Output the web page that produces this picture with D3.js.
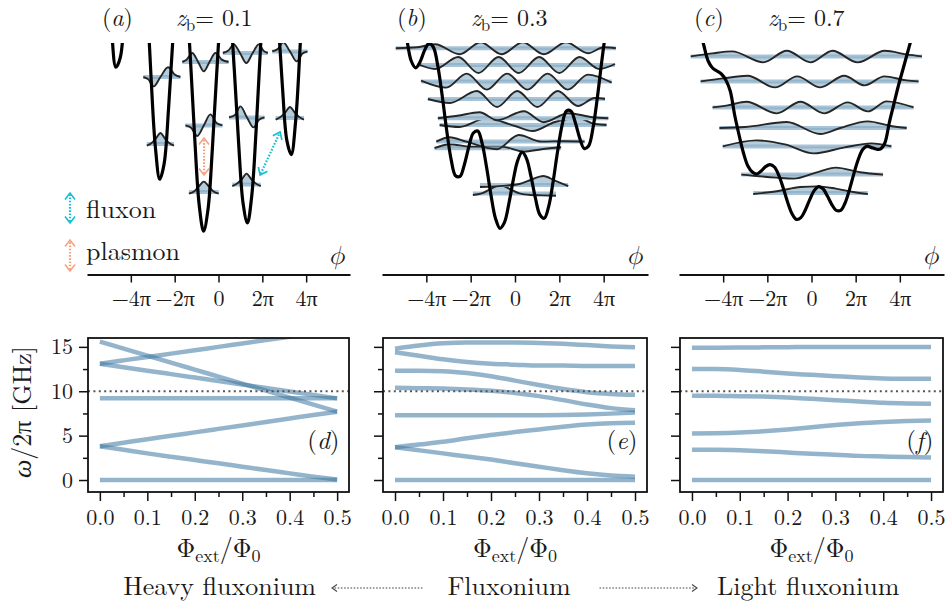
<!DOCTYPE html>
<html>
<head>
<meta charset="utf-8">
<script src="https://cdn.jsdelivr.net/npm/d3@7"></script>
<style>
  body { margin: 0; background: #fff; }
</style>
</head>
<body>
<svg id="fig" width="945" height="605"></svg>
<script>
// ---- spectra (bottom row), frequencies in GHz vs external flux ----
const fluxX = [0, 0.05, 0.1, 0.15, 0.2, 0.25, 0.3, 0.35, 0.4, 0.45, 0.5];

const specD = [
  [0, 0, 0, 0, 0, 0, 0, 0, 0, 0, 0],
  [3.8, 3.4, 3.0, 2.62, 2.25, 1.88, 1.5, 1.12, 0.75, 0.38, 0.05],
  [3.8, 4.2, 4.6, 4.98, 5.37, 5.76, 6.15, 6.54, 6.93, 7.32, 7.7],
  [9.2, 9.2, 9.2, 9.2, 9.2, 9.2, 9.2, 9.2, 9.2, 9.2, 9.2],
  [13.1, 12.71, 12.32, 11.93, 11.54, 11.15, 10.76, 10.37, 9.98, 9.59, 9.2],
  [13.1, 13.48, 13.86, 14.24, 14.62, 15.0, 15.38, 15.76, 16.14, 16.52, 16.9],
  [15.6, 14.81, 14.02, 13.23, 12.44, 11.65, 10.86, 10.07, 9.28, 8.49, 7.7]
];
const specE = [
  [0, 0, 0, 0, 0, 0, 0, 0, 0, 0, 0],
  [3.7, 3.35, 3.0, 2.65, 2.3, 1.9, 1.5, 1.1, 0.75, 0.5, 0.38],
  [3.7, 4.0, 4.3, 4.7, 5.07, 5.4, 5.7, 6.0, 6.25, 6.4, 6.45],
  [7.3, 7.3, 7.3, 7.3, 7.3, 7.3, 7.3, 7.32, 7.38, 7.48, 7.6],
  [10.4, 10.35, 10.3, 10.2, 10.05, 9.8, 9.45, 9.0, 8.5, 8.1, 7.85],
  [12.3, 12.3, 12.25, 12.05, 11.7, 11.2, 10.7, 10.25, 9.9, 9.7, 9.6],
  [14.4, 14.0, 13.6, 13.3, 13.1, 13.0, 12.9, 12.9, 12.85, 12.85, 12.85],
  [14.8, 15.15, 15.4, 15.5, 15.5, 15.5, 15.45, 15.35, 15.2, 15.05, 14.95]
];
const specF = [
  [0, 0, 0, 0, 0, 0, 0, 0, 0, 0, 0],
  [3.4, 3.4, 3.35, 3.25, 3.1, 2.95, 2.85, 2.72, 2.65, 2.58, 2.55],
  [5.25, 5.27, 5.35, 5.5, 5.7, 5.95, 6.2, 6.4, 6.55, 6.65, 6.7],
  [9.5, 9.5, 9.45, 9.4, 9.3, 9.15, 9.0, 8.85, 8.7, 8.62, 8.58],
  [12.5, 12.5, 12.4, 12.2, 12.0, 11.85, 11.7, 11.55, 11.45, 11.4, 11.4],
  [14.9, 14.9, 14.92, 14.95, 14.97, 15.0, 15.0, 15.0, 15.0, 15.0, 15.0]
];
const xMajor = [0, 0.1, 0.2, 0.3, 0.4, 0.5];
const xMinor = [0.05, 0.15, 0.25, 0.35, 0.45];
const yMajor = [0, 5, 10, 15];
const yMinor = [2.5, 7.5, 12.5];
const driveFreq = 10;

// ---- potentials (top row), phi in units of pi, energy in arbitrary units ----
const potPhiA = d3.range(49).map(k => +(-5.48 + 0.2 * k).toFixed(2));
const potA = [23.2, 19.3, 14.65, 10.8, 8.89, 9.38, 11.81, 15.0, 17.5, 18.1, 16.4, 12.77, 8.45, 4.89, 3.29,
  4.07, 6.81, 10.31, 13.11, 14.01, 12.59, 9.27, 5.25, 1.99, 0.69, 1.77, 4.81, 8.62, 11.71, 12.92, 11.79,
  8.78, 5.06, 2.10, 1.10, 2.49, 5.82, 9.93, 13.33, 14.83, 14.01, 11.30, 7.87, 5.22, 4.52, 6.20, 9.84,
  14.25, 17.95];
const potPhiB = d3.range(49).map(k => +(-5.28 + 0.2 * k).toFixed(2));
const potB = [14.1, 12.08, 10.32, 9.20, 8.86, 9.16, 9.73, 10.09, 9.88, 8.94, 7.43, 5.72, 4.27, 3.46, 3.43,
  4.04, 4.92, 5.60, 5.70, 5.07, 3.87, 2.47, 1.33, 0.835, 1.12, 2.05, 3.24, 4.22, 4.64, 4.32, 3.43, 2.35,
  1.52, 1.335, 1.93, 3.17, 4.67, 5.97, 6.70, 6.70, 6.12, 5.34, 4.83, 4.95, 5.86, 7.41, 9.23, 10.84, 11.87];
const potPhiC = d3.range(52).map(k => +(-5.28 + 0.2 * k).toFixed(2));
const potC = [12.06, 10.9, 10.0, 9.2, 8.85, 8.7, 8.55, 8.25, 7.7, 6.5, 5.5, 4.6, 3.95, 3.65, 3.55, 3.7,
  3.92, 4.02, 3.9, 3.48, 2.85, 2.14, 1.56, 1.28, 1.37, 1.75, 2.27, 2.72, 2.92, 2.81, 2.45, 2.02, 1.73,
  1.73, 2.10, 2.77, 3.57, 4.29, 4.77, 4.94, 4.87, 4.80, 4.80, 5.1, 6.1, 7.0, 7.9, 8.7, 9.5, 10.3, 11.1, 12.0];

// wavefunctions: level energy E and [phi, psi] samples
const wavesA = [
  {E: 2.65, pts: [[-1.35, -0.08], [-1.1, 0.04], [-0.9, 0.28], [-0.67, 0.52], [-0.44, 0.28], [-0.24, 0.04], [0.01, -0.08]]},
  {E: 5.98, pts: [[-1.51, 0], [-1.25, -0.12], [-0.97, -0.53], [-0.67, 0], [-0.37, 0.55], [-0.09, 0.12], [0.18, 0]]},
  {E: 9.15, pts: [[-1.65, 0], [-1.45, 0.12], [-1.2, 0.45], [-0.93, 0], [-0.67, -0.47], [-0.41, 0], [-0.14, 0.45], [0.15, 0.12], [0.46, 0]]},
  {E: 5.05, pts: [[-3.27, -0.08], [-3.05, 0.05], [-2.85, 0.28], [-2.65, 0.55], [-2.45, 0.28], [-2.25, 0.05], [-2.03, -0.08]]},
  {E: 8.4, pts: [[-3.43, 0], [-3.2, -0.12], [-2.96, -0.47], [-2.65, 0], [-2.3, 0.49], [-2.0, 0.12], [-1.74, 0]]},
  {E: 3.02, pts: [[0.63, -0.08], [0.85, 0.05], [1.07, 0.28], [1.28, 0.55], [1.49, 0.28], [1.7, 0.05], [1.93, -0.08]]},
  {E: 6.38, pts: [[0.48, 0], [0.75, 0.12], [1.0, 0.55], [1.3, 0], [1.6, -0.5], [1.85, -0.12], [2.1, 0]]},
  {E: 9.6, pts: [[0.2, 0], [0.45, 0.12], [0.7, 0.43], [0.98, 0], [1.27, -0.5], [1.56, 0], [1.84, 0.43], [2.05, 0.12], [2.25, 0]]},
  {E: 6.35, pts: [[2.61, -0.08], [2.83, 0.05], [3.05, 0.28], [3.26, 0.55], [3.47, 0.28], [3.68, 0.05], [3.9, -0.08]]},
  {E: 9.68, pts: [[2.45, 0], [2.7, 0.12], [2.95, 0.45], [3.26, 0], [3.57, -0.5], [3.82, -0.12], [4.06, 0]]}
];
const wavesB = [
  {E: 2.58, pts: [[-1.9, -0.08], [-1.5, 0.0], [-1.1, 0.22], [-0.66, 0.42], [-0.2, 0.2], [0.2, 0.0], [0.7, -0.08], [1.2, -0.1], [1.85, -0.12]]},
  {E: 3.0, pts: [[-1.58, -0.1], [-1.0, -0.08], [-0.4, -0.03], [0.2, 0.05], [0.7, 0.25], [1.28, 0.45], [1.8, 0.22], [2.4, -0.05]]},
  {E: 4.84, pts: [[-3.63, 0], [-2.95, 0.2], [-2.0, 0.08], [-0.6, 0.08], [0.4, -0.17], [1.2, -0.05], [2.08, 0.05]]},
  {E: 5.17, pts: [[-3.55, 0], [-2.95, 0.22], [-2.2, 0.0], [-0.82, -0.38], [0.17, 0.33], [1.2, 0.0], [2.2, 0.02], [3.14, 0]]},
  {E: 6.0, pts: [[-3.4, 0], [-2.5, -0.1], [-1.3, 0.33], [0.0, -0.05], [0.8, -0.3], [1.8, 0.15], [2.84, 0.35], [3.6, 0.05], [4.13, 0]]},
  {E: 6.34, pts: [[-3.48, 0], [-2.6, 0.12], [-1.6, 0.3], [-0.8, -0.1], [0.4, 0.35], [1.3, -0.2], [2.4, 0.25], [3.5, 0.05], [4.21, 0]]},
  {E: 7.3, pts: [[-3.93, 0], [-2.94, -0.2], [-1.72, 0.4], [-0.81, -0.4], [0.1, 0.4], [1.01, -0.4], [1.93, 0.4], [2.84, -0.35], [3.6, 0.05], [4.06, 0]]},
  {E: 8.17, pts: [[-4.24, 0.05], [-3.1, -0.3], [-2.18, 0.4], [-1.27, -0.4], [-0.36, 0.4], [0.56, -0.4], [1.47, 0.4], [2.38, -0.4], [3.29, 0.35], [4.36, -0.05]]},
  {E: 9.0, pts: [[-4.39, 0.05], [-3.6, -0.2], [-2.56, 0.4], [-1.65, -0.4], [-0.74, 0.4], [0.17, -0.4], [1.09, 0.4], [2.0, -0.4], [2.91, 0.4], [3.8, -0.2], [4.51, 0.05]]},
  {E: 9.84, pts: [[-5.38, 0], [-4.4, 0.05], [-3.6, 0.2], [-2.5, -0.3], [-1.55, 0.3], [-0.6, -0.3], [0.35, 0.3], [1.3, -0.3], [2.3, 0.3], [3.3, -0.25], [4.0, 0.05], [4.55, 0]]}
];
const wavesC = [
  {E: 2.6, pts: [[-2.64, -0.05], [-1.5, 0.1], [-0.5, 0.3], [0.3, 0.33], [1.1, 0.22], [1.9, 0.05], [2.55, -0.05]]},
  {E: 3.52, pts: [[-3.18, 0], [-1.6, -0.15], [-0.8, -0.2], [0.2, 0.1], [1.1, 0.35], [2.2, 0.12], [3.24, 0]]},
  {E: 4.93, pts: [[-4.02, 0], [-2.49, 0.3], [-1.2, 0.1], [0.1, -0.35], [1.5, -0.05], [2.7, 0.15], [3.62, 0]]},
  {E: 5.85, pts: [[-4.17, 0], [-3.0, 0.05], [-1.12, 0.3], [0.4, -0.3], [1.3, 0.0], [2.55, 0.33], [3.6, 0.1], [4.31, 0]]},
  {E: 6.88, pts: [[-4.48, 0], [-3.8, 0.1], [-2.95, 0.28], [-1.57, -0.3], [-0.5, 0.28], [0.57, -0.3], [1.64, 0.25], [2.55, -0.2], [3.4, 0.3], [4.62, 0]]},
  {E: 8.18, pts: [[-5.02, 0], [-4.0, 0.15], [-2.9, 0.28], [-1.65, -0.3], [-0.65, 0.25], [0.4, -0.3], [1.48, 0.28], [2.4, -0.2], [3.3, 0.25], [4.3, 0.05], [4.85, 0]]},
  {E: 9.43, pts: [[-5.47, 0], [-4.5, 0.15], [-3.6, 0.25], [-2.18, -0.3], [-1.12, 0.28], [-0.04, -0.3], [0.95, 0.28], [2.09, -0.3], [3.32, 0.28], [4.3, 0.1], [5.0, 0]]}
];
const phiTicks = [-4, -2, 0, 2, 4];
const zbValues = ["0.1", "0.3", "0.7"];

// transition arrows in panel (a): [phi, E] end points
const fluxonArrow = [[1.9, 3.5], [2.81, 5.65]];
const plasmonArrow = [[-0.66, 3.5], [-0.66, 5.35]];

const cyan = "#17becf";
const salmon = "#f7a180";
const FONT = "'Latin Modern Roman', 'Liberation Serif', serif";
const GREEK = "'Latin Modern Math', 'DejaVu Serif', 'Liberation Serif', serif";

const svg = d3.select("#fig").style("font-family", FONT);
const cols = [
  {x0: 88, x1: 349},
  {x0: 383, x1: 647},
  {x0: 680, x1: 943}
];

function styleAxis(a, size) {
  a.attr("font-family", FONT).attr("font-size", size);
  a.selectAll("line").attr("stroke", "#111").attr("stroke-width", 1.5);
  a.selectAll("text").attr("fill", "#1a1a1a");
}

function txt(g, x, y, size) {
  return g.append("text").attr("x", x).attr("y", y)
    .attr("font-size", size).attr("fill", "#1a1a1a")
    .style("font-family", FONT);
}

function drawArrow(g, x1, y1, x2, y2, color, both, w) {
  const dx = x2 - x1, dy = y2 - y1, len = Math.hypot(dx, dy);
  const ux = dx / len, uy = dy / len, nx = -uy, ny = ux;
  const L = w ? 5 : 6.5, W = w ? 3.5 : 5;
  g.append("line")
    .attr("x1", x1 + ux * 1.5).attr("y1", y1 + uy * 1.5)
    .attr("x2", x2 - ux * 1.5).attr("y2", y2 - uy * 1.5)
    .attr("stroke", color).attr("stroke-width", w || 2.2)
    .attr("stroke-dasharray", "1.6,1.6");
  const head = (px, py, sx, sy) =>
    `M${px - sx * L + nx * W},${py - sy * L + ny * W}L${px},${py}L${px - sx * L - nx * W},${py - sy * L - ny * W}`;
  g.append("path").attr("d", head(x2, y2, ux, uy))
    .attr("fill", "none").attr("stroke", color).attr("stroke-width", w ? 1.1 : 1.6);
  if (both) {
    g.append("path").attr("d", head(x1, y1, -ux, -uy))
      .attr("fill", "none").attr("stroke", color).attr("stroke-width", 1.6);
  }
}

function drawSpectrum(i, lines, tag) {
  const c = cols[i];
  const x = d3.scaleLinear().domain([-0.025, 0.525]).range([c.x0, c.x1]);
  const y = d3.scaleLinear().domain([-1.35, 16]).range([492, 338]);
  const g = svg.append("g");
  const cid = "sclip" + i;
  g.append("clipPath").attr("id", cid).append("rect")
    .attr("x", c.x0).attr("y", 338).attr("width", c.x1 - c.x0).attr("height", 154);

  const line = d3.line()
    .x((d, k) => x(fluxX[k]))
    .y(d => y(d))
    .curve(d3.curveMonotoneX);

  g.append("g").attr("clip-path", `url(#${cid})`)
    .selectAll("path")
    .data(lines)
    .join("path")
    .attr("d", line)
    .attr("fill", "none")
    .attr("stroke", "#3d76a0")
    .attr("stroke-opacity", 0.55)
    .attr("stroke-width", 4.5);

  g.append("line")
    .attr("x1", c.x0).attr("x2", c.x1)
    .attr("y1", y(driveFreq)).attr("y2", y(driveFreq))
    .attr("stroke", "#555").attr("stroke-width", 1.8)
    .attr("stroke-dasharray", "2,3.4");

  const xa = g.append("g").attr("transform", "translate(0,492)")
    .call(d3.axisBottom(x).tickValues(xMajor).tickFormat(d3.format(".1f"))
      .tickSize(9).tickPadding(8).tickSizeOuter(0));
  xa.select(".domain").remove();
  styleAxis(xa, 22);
  const xm = g.append("g").attr("transform", "translate(0,492)")
    .call(d3.axisBottom(x).tickValues(xMinor).tickFormat("").tickSize(5).tickSizeOuter(0));
  xm.select(".domain").remove();
  styleAxis(xm, 22);

  const ya = g.append("g").attr("transform", `translate(${c.x0},0)`)
    .call(d3.axisLeft(y).tickValues(yMajor).tickFormat(i === 0 ? d3.format("d") : "")
      .tickSize(9).tickPadding(6).tickSizeOuter(0));
  ya.select(".domain").remove();
  styleAxis(ya, 22);
  const ym = g.append("g").attr("transform", `translate(${c.x0},0)`)
    .call(d3.axisLeft(y).tickValues(yMinor).tickFormat("").tickSize(5).tickSizeOuter(0));
  ym.select(".domain").remove();
  styleAxis(ym, 22);

  g.append("rect")
    .attr("x", c.x0).attr("y", 338)
    .attr("width", c.x1 - c.x0).attr("height", 154)
    .attr("fill", "none").attr("stroke", "#111").attr("stroke-width", 1.8);

  const t = txt(g, x(0.505), y(3.5), 25).attr("text-anchor", "end");
  t.append("tspan").text("(");
  t.append("tspan").attr("font-style", "italic").text(tag);
  t.append("tspan").text(")");

  const xl = txt(g, x(0.25), 557, 26).attr("text-anchor", "middle");
  xl.append("tspan").text("Φ");
  xl.append("tspan").attr("font-size", 18).attr("dy", 5).text("ext");
  xl.append("tspan").attr("dy", -5).text("/Φ");
  xl.append("tspan").attr("font-size", 18).attr("dy", 5).text("0");
}

function drawWells(i, phis, pot, waves, tag) {
  const c = cols[i];
  const x = d3.scaleLinear().domain([-6, 6]).range([c.x0 - 1, c.x1 + 1]);
  const y = d3.scaleLinear().domain([0, 10.1]).range([245, 43]);
  const g = svg.append("g");
  const cid = "pclip" + i;
  g.append("clipPath").attr("id", cid).append("rect")
    .attr("x", c.x0 - 1).attr("y", 43).attr("width", c.x1 - c.x0 + 2).attr("height", 229);
  const inner = g.append("g").attr("clip-path", `url(#${cid})`);

  const wg = inner.selectAll("g.level")
    .data(waves)
    .join("g")
    .attr("class", "level");

  wg.append("line")
    .attr("x1", d => x(d.pts[0][0]))
    .attr("x2", d => x(d.pts[d.pts.length - 1][0]))
    .attr("y1", d => y(d.E)).attr("y2", d => y(d.E))
    .attr("stroke", "#a9c3d6").attr("stroke-width", 4);

  wg.append("path")
    .attr("d", d => d3.area()
      .x(p => x(p[0]))
      .y0(y(d.E))
      .y1(p => y(d.E + p[1]))
      .curve(d3.curveMonotoneX)(d.pts))
    .attr("fill", "#86abc5").attr("fill-opacity", 0.6);

  wg.append("path")
    .attr("d", d => d3.line()
      .x(p => x(p[0]))
      .y(p => y(d.E + p[1]))
      .curve(d3.curveMonotoneX)(d.pts))
    .attr("fill", "none").attr("stroke", "#262626").attr("stroke-width", 1.9);

  inner.append("path")
    .datum(pot)
    .attr("d", d3.line()
      .x((d, k) => x(phis[k]))
      .y(d => y(d))
      .curve(d3.curveCatmullRom.alpha(0.5)))
    .attr("fill", "none").attr("stroke", "#000").attr("stroke-width", 3.2);

  const ax = g.append("g").attr("transform", "translate(0,274.5)")
    .call(d3.axisBottom(x).tickValues(phiTicks)
      .tickFormat(d => d === 0 ? "0" : (d < 0 ? "−" : "") + Math.abs(d) + "π")
      .tickSize(8).tickPadding(8).tickSizeOuter(0));
  styleAxis(ax, 22);
  ax.select(".domain").attr("stroke", "#111").attr("stroke-width", 1.8);

  txt(g, c.x1 - 4, 264, 26)
    .attr("text-anchor", "end").attr("font-style", "italic")
    .style("font-family", GREEK)
    .text("ϕ");

  const t = txt(g, c.x0 + 14, 26, 24);
  t.append("tspan").text("(");
  t.append("tspan").attr("font-style", "italic").text(tag);
  t.append("tspan").text(")");

  const z = txt(g, c.x0 + 88, 26, 24);
  z.append("tspan").attr("font-style", "italic").text("z");
  z.append("tspan").attr("font-size", 17).attr("dy", 5).text("b");
  z.append("tspan").attr("dy", -5).text("= " + zbValues[i]);

  return {g, x, y};
}

const pa = drawWells(0, potPhiA, potA, wavesA, "a");
drawWells(1, potPhiB, potB, wavesB, "b");
drawWells(2, potPhiC, potC, wavesC, "c");

// transition arrows in panel (a)
drawArrow(pa.g, pa.x(fluxonArrow[0][0]), pa.y(fluxonArrow[0][1]),
  pa.x(fluxonArrow[1][0]), pa.y(fluxonArrow[1][1]), cyan, true);
drawArrow(pa.g, pa.x(plasmonArrow[0][0]), pa.y(plasmonArrow[0][1]),
  pa.x(plasmonArrow[1][0]), pa.y(plasmonArrow[1][1]), salmon, true);

// legend
const lg = svg.append("g");
drawArrow(lg, 70, 223, 70, 193, cyan, true);
drawArrow(lg, 70, 271, 70, 240, salmon, true);
txt(lg, 86, 218, 26).text("fluxon");
txt(lg, 86, 260, 26).text("plasmon");

drawSpectrum(0, specD, "d");
drawSpectrum(1, specE, "e");
drawSpectrum(2, specF, "f");

// y label
txt(svg, 0, 0, 26)
  .attr("transform", "translate(31,412) rotate(-90)")
  .attr("text-anchor", "middle")
  .call(t => {
    t.append("tspan").attr("font-style", "italic").text("ω");
    t.append("tspan").text("/2π [GHz]");
  });

// bottom caption
const cap = svg.append("g");
txt(cap, 316, 595, 26).attr("text-anchor", "end").text("Heavy fluxonium");
txt(cap, 509, 595, 26).attr("text-anchor", "middle").text("Fluxonium");
txt(cap, 717, 595, 26).attr("text-anchor", "start").text("Light fluxonium");
drawArrow(cap, 424, 588, 332, 588, "#444", false, 1.2);
drawArrow(cap, 598, 588, 697, 588, "#444", false, 1.2);
</script>
</body>
</html>
